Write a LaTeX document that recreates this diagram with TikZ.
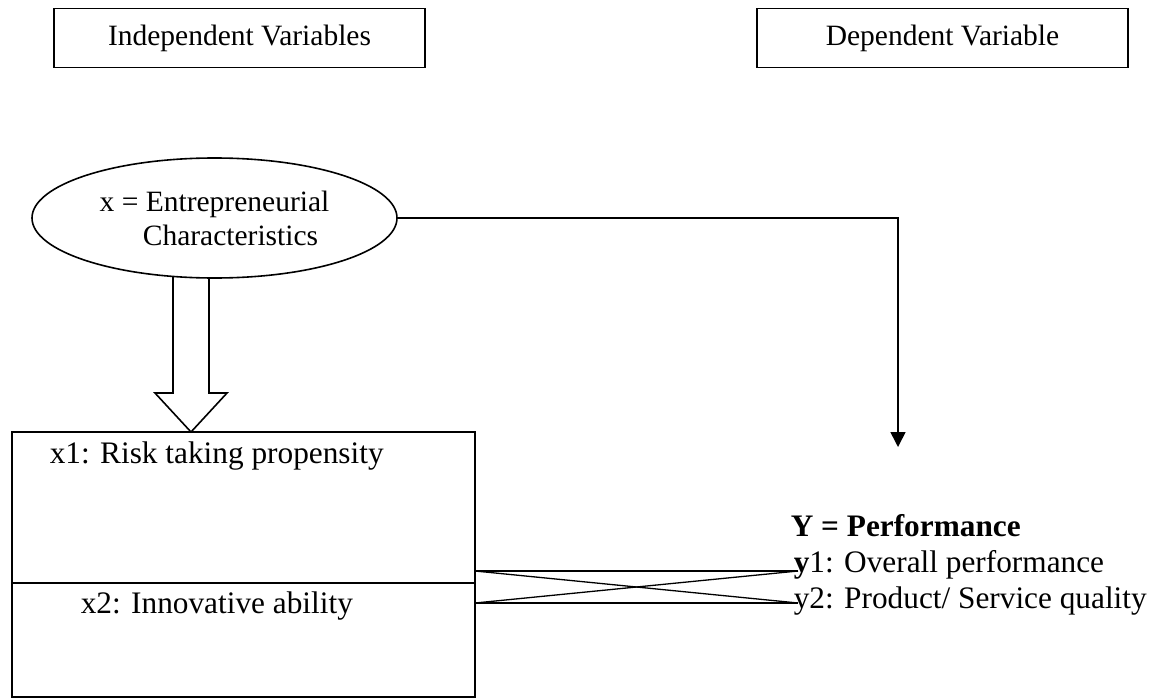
\documentclass[tikz,border=0pt]{standalone}
\usepackage{fontspec}
\setmainfont{Liberation Serif}
\usetikzlibrary{arrows.meta,shapes.geometric}

\begin{document}
\begin{tikzpicture}[x=1pt,y=-1pt,line width=1.6pt,
	hdr/.style={draw,minimum width=371pt,minimum height=59pt,font=\fontsize{29.5}{34}\selectfont},
	part/.style={draw,anchor=north west,outer sep=0pt,minimum width=463pt},
	lbl/.style={anchor=base west,inner sep=0pt,font=\fontsize{31.3}{36}\selectfont}]
	\useasboundingbox (0,0) rectangle (1158,698);
	\node[hdr] (indep) at (239.5,38) {Independent Variables};
	\node[hdr] (dep) at (942.5,38) {Dependent Variable};
	% hollow block arrow down to x1
	\coordinate (tip) at (191,432);
	\draw[fill=white] (tip) -- ++(-36,-39) -- ++(18,0) -- ++(0,-150) -- ++(36,0) -- ++(0,150) -- ++(18,0) -- cycle;
	\node[draw,ellipse,fill=white,minimum width=365pt,minimum height=120pt,inner sep=0pt,align=center,
		font=\fontsize{29.5}{34}\selectfont] (ent) at (214.5,218) {x = Entrepreneurial\\\hspace*{32pt}Characteristics};
	\node[part,minimum height=151pt] (riskbox) at (12,432) {};
	\node[part,minimum height=114pt] (innobox) at (riskbox.south west) {};
	\node[lbl] (x1) at (49,463) {x1: Risk taking propensity};
	\node[lbl] (x2) at (80,613) {x2: Innovative ability};
	\node[lbl] (perf) at (790,536) {\textbf{Y = Performance}};
	\node[lbl] (y1) at (793,572) {\textbf{y}1: Overall performance};
	\node[lbl] (y2) at (793,608) {y2: Product/ Service quality};
	% links
	\coordinate (perfin) at (898,447);
	\draw[-{Triangle[width=15pt,length=15pt]}] (ent.east) -| (perfin);
	\coordinate (l1) at (475,571);
	\coordinate (l2) at (475,603);
	\coordinate (r1) at (798,571);
	\coordinate (r2) at (798,603);
	\draw[line width=1.3pt] (l1) -- (r1);
	\draw[line width=1.3pt] (l2) -- (r2);
	\draw[line width=1.3pt] (l1) -- (r2);
	\draw[line width=1.3pt] (l2) -- (r1);
\end{tikzpicture}
\end{document}
